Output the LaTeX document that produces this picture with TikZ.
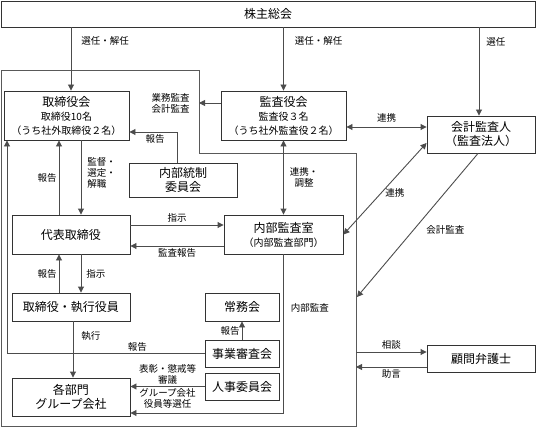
\documentclass[tikz,border=0pt]{standalone}
\usepackage{fontspec}
\setmainfont{Noto Sans CJK JP}
\usepackage{tikz}
\usetikzlibrary{positioning, arrows.meta}

\begin{document}
\begin{tikzpicture}[x=1pt, y=-1pt]
\tikzstyle{box}=[draw=black!80, line width=0.9pt, rectangle, align=center, inner sep=1pt, font=\fontsize{12}{14}\selectfont]
\tikzstyle{path}=[draw=black!70, line width=0.9pt, ->, >={Triangle[length=6pt, width=6pt]}]
\tikzstyle{both}=[path, <->]
\tikzstyle{lbl}=[font=\fontsize{9.5}{11}\selectfont, inner sep=2pt, align=center]
\tikzstyle{bound}=[draw=black!65, line width=0.9pt]

\def \subline {\fontsize{10}{14}\selectfont}

\useasboundingbox (0,0) rectangle (536,428);

% outer frame of the company
\coordinate (o1) at (1,70);
\coordinate (o2) at (199,70);
\coordinate (o3) at (199,153);
\coordinate (o4) at (356,153);
\coordinate (o5) at (356,426);
\coordinate (o6) at (1,426);
\coordinate (aend) at (357,297);
\path[bound] (o1) -- (o2) -- (o3) -- (o4) -- (o5) -- (o6) -- cycle;

\node[box, minimum width=534pt, minimum height=26pt]	(gm) at		(268,14)	{株主総会};

\node[box, minimum width=125pt, minimum height=49pt]	(board) at	(66.5,115.5)	{取締役会\\\subline 取締役10名\\\subline （うち社外取締役２名）};
\node[box, minimum width=125pt, minimum height=49pt]	(kansa) at	(283.5,115.5)	{監査役会\\\subline 監査役３名\\\subline （うち社外監査役２名）};
\node[box, minimum width=108pt, minimum height=37pt]	(auditor) at	(481,134.5)	{会計監査人\\（監査法人）};
\node[box, minimum width=108pt, minimum height=34pt]	(control) at	(183,180)	{内部統制\\委員会};

\node[box, minimum width=118pt, minimum height=39pt]	(ceo) at	(71,234.5)	{代表取締役};
\node[box, minimum width=119pt, minimum height=39pt]	(internal) at	(283.5,234.5)	{内部監査室\\\subline （内部監査部門）};
\node[box, minimum width=118pt, minimum height=28pt]	(officers) at	(71,307)	{取締役・執行役員};

\node[box, minimum width=74pt, minimum height=28pt]	(jomu) at	(242,307)	{常務会};
\node[box, minimum width=74pt, minimum height=27pt]	(review) at	(242,353.5)	{事業審査会};
\node[box, minimum width=74pt, minimum height=27pt]	(hr) at		(242,386.5)	{人事委員会};

\node[box, minimum width=118pt, minimum height=38pt]	(dept) at	(71,397)	{各部門\\グループ会社};
\node[box, minimum width=108pt, minimum height=27pt]	(lawyer) at	(481,358.5)	{顧問弁護士};

% general meeting
\path[path] ([xshift=4.5pt]board.north |- gm.south) -- node[lbl, pos=0.22, right, xshift=8pt] (l1) {選任・解任} ([xshift=4.5pt]board.north);
\path[path] (kansa.north |- gm.south) -- node[lbl, pos=0.22, right, xshift=9pt] (l2) {選任・解任} (kansa.north);
\path[path] ([xshift=-2pt]auditor.north |- gm.south) -- node[lbl, pos=0.16, right, xshift=5pt] (l3) {選任} ([xshift=-2pt]auditor.north);

% auditors
\path[path] ([yshift=12.5pt]kansa.west) -- node[lbl, at end, left, xshift=-7pt] (l4) {業務監査\\会計監査} ([yshift=12.5pt]kansa.west -| o2);
\path[both] ([yshift=-11.5pt]kansa.east) -- node[lbl, above, yshift=2pt] (l5) {連携} ([yshift=-11.5pt]kansa.east -| auditor.west);
\path[both] (kansa.south) -- node[lbl, right, xshift=4pt] (l11) {連携・\\調整} (internal.north);
\path[both] ([yshift=-8.5pt]auditor.west) -- node[lbl, pos=0.55, right, xshift=2pt] (l12) {連携} (internal.east);
\path[path] ([xshift=-3pt]auditor.south) -- node[lbl, pos=0.53, right, xshift=10pt] (l13) {会計監査} (aend);

% board and executives
\path[path] ([xshift=-6pt]control.north) |- node[lbl, pos=0.73, below] (l6) {報告} ([yshift=-16.5pt]board.east);
\path[path] ([xshift=-12pt]ceo.north) -- node[lbl, left] (l7) {報告} ([xshift=-12pt]ceo.north |- board.south);
\path[path] ([xshift=10pt]ceo.north |- board.south) -- node[lbl, right, align=left, xshift=4pt, yshift=5pt] (l8) {監督・\\選定・\\解職} ([xshift=10pt]ceo.north);
\path[path] ([yshift=9.5pt]ceo.east) -- node[lbl, above] (l9) {指示} ([yshift=9.5pt]ceo.east -| internal.west);
\path[path] ([yshift=-11.5pt]internal.west) -- node[lbl, below] (l10) {監査報告} ([yshift=-11.5pt]internal.west -| ceo.east);
\path[path] ([xshift=-12pt]officers.north) -- node[lbl, left] (l14) {報告} ([xshift=-12pt]ceo.south);
\path[path] ([xshift=10pt]ceo.south) -- node[lbl, right, xshift=3pt] (l15) {指示} ([xshift=10pt]officers.north);
\path[path] ([xshift=2pt]officers.south) -- node[lbl, pos=0.26, right, xshift=6pt] (l16) {執行} ([xshift=2pt]dept.north);

% committees
\path[path] (review.north) -- node[lbl, left] (l17) {報告} (jomu.south);
\path[path] (review.west) -| node[lbl, pos=0.17, above] (l18) {報告} ([xshift=-59.5pt]board.south);
\path[path] (hr.west) -- node[lbl, above] (l19) {表彰・懲戒等\\審議} node[lbl, below] (l20) {グループ会社\\役員等選任} (hr.west -| dept.east);
\path[path] (internal.south) |- node[lbl, pos=0.17, right, xshift=5pt] (l21) {内部監査} ([yshift=-16pt]dept.east);

% lawyer
\path[path] ([yshift=6.5pt]lawyer.west -| o4) -- node[lbl, above] (l22) {相談} ([yshift=6.5pt]lawyer.west);
\path[path] ([yshift=-8.5pt]lawyer.west) -- node[lbl, below] (l23) {助言} ([yshift=-8.5pt]lawyer.west -| o4);

\end{tikzpicture}
\end{document}
